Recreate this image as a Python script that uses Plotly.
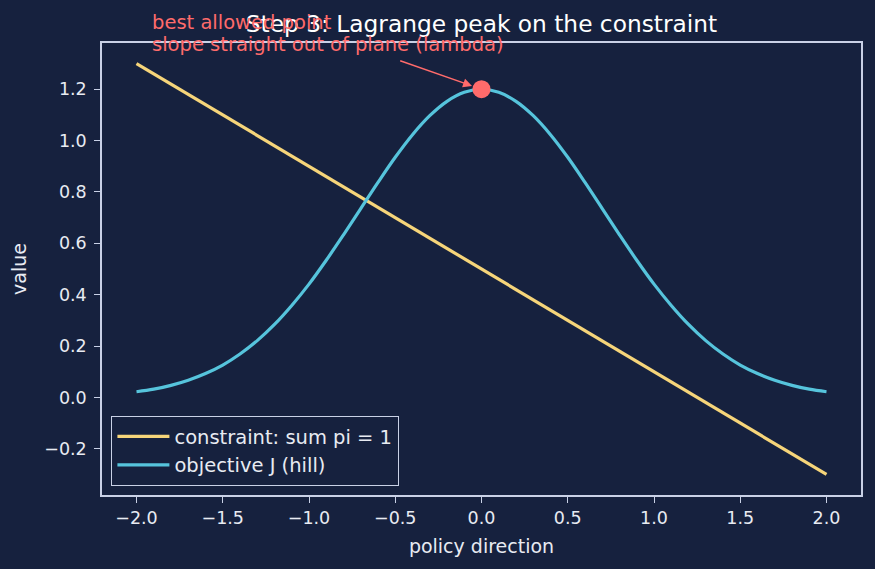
import plotly.graph_objects as go

# ---- data ----
constraint_x = [-2.0, 2.0]
constraint_y = [1.3, -0.3]

objective_x = [-2.0, -1.9, -1.8, -1.7, -1.6, -1.5, -1.4, -1.3, -1.2, -1.1, -1.0,
               -0.9, -0.8, -0.7, -0.6, -0.5, -0.4, -0.3, -0.2, -0.1, 0.0,
               0.1, 0.2, 0.3, 0.4, 0.5, 0.6, 0.7, 0.8, 0.9, 1.0,
               1.1, 1.2, 1.3, 1.4, 1.5, 1.6, 1.7, 1.8, 1.9, 2.0]
objective_y = [0.022, 0.032, 0.047, 0.067, 0.093, 0.126, 0.169, 0.221, 0.284, 0.358, 0.441,
               0.534, 0.633, 0.735, 0.837, 0.935, 1.023, 1.097, 1.153, 1.188, 1.200,
               1.188, 1.153, 1.097, 1.023, 0.935, 0.837, 0.735, 0.633, 0.534, 0.441,
               0.358, 0.284, 0.221, 0.169, 0.126, 0.093, 0.067, 0.047, 0.032, 0.022]

peak_x = [0.0]
peak_y = [1.2]

x_ticks = [-2.0, -1.5, -1.0, -0.5, 0.0, 0.5, 1.0, 1.5, 2.0]
y_ticks = [-0.2, 0.0, 0.2, 0.4, 0.6, 0.8, 1.0, 1.2]

title_text = "Step 3: Lagrange peak on the constraint"
note_line1 = "best allowed point"
note_line2 = "slope straight out of plane (lambda)"

BG = "#16213e"
SPINE = "#c9d1e6"
TXT = "#e8ebf2"
YELLOW = "#f6d57a"
CYAN = "#56c4dc"
RED = "#ff6b6b"
FONT = "DejaVu Sans"

fig = go.Figure()
fig.add_trace(go.Scatter(x=constraint_x, y=constraint_y, mode="lines",
                         name="constraint: sum pi = 1",
                         line=dict(color=YELLOW, width=3.2)))
fig.add_trace(go.Scatter(x=objective_x, y=objective_y, mode="lines",
                         name="objective J (hill)", line_shape="spline",
                         line=dict(color=CYAN, width=3.2)))
fig.add_trace(go.Scatter(x=peak_x, y=peak_y, mode="markers", showlegend=False,
                         marker=dict(color=RED, size=18, line=dict(width=0))))

# arrow
fig.add_annotation(x=peak_x[0], y=peak_y[0], ax=-0.48, ay=1.313,
                   xref="x", yref="y", axref="x", ayref="y",
                   text="", showarrow=True, arrowhead=2, arrowsize=1.2,
                   arrowwidth=1.5, arrowcolor=RED, standoff=10)
# annotation text (two lines), placed in paper units above the plot
fig.add_annotation(x=-1.92, y=(495 - 23) / 452, xref="x", yref="paper", text=note_line1,
                   showarrow=False, xanchor="left", yanchor="middle",
                   font=dict(family=FONT, size=19.5, color=RED))
fig.add_annotation(x=-1.92, y=(495 - 44.5) / 452, xref="x", yref="paper", text=note_line2,
                   showarrow=False, xanchor="left", yanchor="middle",
                   font=dict(family=FONT, size=19.5, color=RED))

axis_common = dict(showline=True, linecolor=SPINE, linewidth=1.5, mirror=True,
                   showgrid=False, zeroline=False, ticks="outside", ticklen=6,
                   tickwidth=1.3, tickcolor=SPINE,
                   tickfont=dict(family=FONT, size=17.5, color=TXT))

fig.update_layout(
    width=875, height=569,
    paper_bgcolor=BG, plot_bgcolor=BG,
    margin=dict(l=102, r=14, t=43, b=74),
    font=dict(family=FONT, color=TXT),
    title=dict(text=title_text, x=0.5, xref="paper", y=0.958, yref="container",
               xanchor="center", yanchor="middle",
               font=dict(family=FONT, size=23.3, color="#ffffff")),
    xaxis=dict(range=[-2.2, 2.2], tickvals=x_ticks,
               ticktext=[f"{v:.1f}".replace("-", "\u2212") for v in x_ticks],
               title=dict(text="policy direction", standoff=13,
                          font=dict(family=FONT, size=19, color=TXT)),
               **axis_common),
    yaxis=dict(range=[-0.38, 1.38], tickvals=y_ticks,
               ticktext=[f"{v:.1f}".replace("-", "\u2212") for v in y_ticks],
               ticklabelstandoff=4,
               title=dict(text="value", standoff=13,
                          font=dict(family=FONT, size=19, color=TXT)),
               **axis_common),
    legend=dict(x=0.012, y=0.02, xanchor="left", yanchor="bottom",
                bgcolor=BG, bordercolor=SPINE, borderwidth=1.3,
                font=dict(family=FONT, size=19.5, color=TXT),
                itemwidth=52, tracegroupgap=0),
    showlegend=True,
)

fig.write_html("out.html")
